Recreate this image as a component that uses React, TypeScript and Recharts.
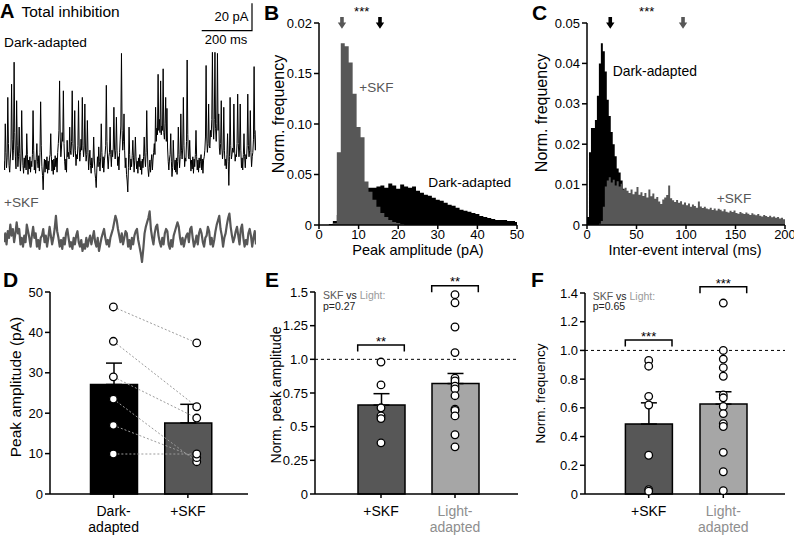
import React from "react";
import {
  ComposedChart,
  LineChart,
  Line,
  Area,
  Bar,
  Cell,
  ErrorBar,
  XAxis,
  YAxis,
  ReferenceLine,
  ReferenceDot,
} from "recharts";

const FONT = "'Liberation Sans', Arial, Helvetica, sans-serif";
const BLACK = "#000000";
const SKF_GRAY = "#575757";
const LIGHT_GRAY = "#a6a6a6";
const LIGHT_TEXT = "#8e8e8e";

// A: example recordings, one sample every 2.5 ms (about 1 s)
const darkTrace = [
  2, -6, 36, 10, -4, 5, 60, 18, -2, -8, 4, 14, 72, 22, 3, 12, 92, 28, 6, -5,
  57, 16, -3, 6, 33, 9, -7, 4, 48, 14, -2, -9, 5, -4, 7, -6, 27, 8, -10, 3,
  -5, 6, -8, 2, -3, 8, 48, 12, -6, 3, -9, 5, 18, 2, -4, 7, -7, 10, 56, 16,
  -3, -11, -24, -6, 4, -8, 3, -5, 6, -9, 2, -6, 5, 8, 27, 6, -7, 3, -10, 4,
  -6, 7, -3, 5, -8, 10, 18, 30, 75, 24, 6, 14, 28, 20, 66, 18, 2, -6, 4, -8,
  21, 6, 10, 4, 33, 12, 8, 20, 66, 18, 6, 14, 48, 12, -2, 8, 4, 16, 57, 15,
  2, 10, 22, 12, 60, 16, 6, 14, 54, 14, 2, 8, 39, 10, -6, 4, 12, -2, -9, 5,
  -4, 3, 24, 4, -8, -14, -22, -5, 6, -3, 15, 2, -7, 5, 36, 10, -4, 6, -8, 3,
  8, 16, 71, 20, 4, -5, 6, 10, 33, 8, -3, 12, 6, 14, 51, 14, 4, 12, 42, 12,
  -2, 6, -6, 10, 22, 34, 100, 30, 12, 20, 45, 12, -4, 5, -10, -16, -26, -4, 33, 8,
  -6, 4, -3, 7, 21, 5, -8, 3, 24, 6, -5, 2, -9, 5, -3, 8, -6, 2, -10, 4,
  -4, 6, 24, 6, -3, 10, 48, 14, -5, -12, -4, 3, -8, 2, 8, -6, 4, 10, 18, 8,
  51, 20, 32, 26, 81, 30, 40, 28, 75, 26, 34, 30, 86, 28, 22, 36, 60, 20, 50, 14,
  2, -6, 4, 8, 27, 2, -12, -4, 21, 4, -6, 3, -8, 5, -10, 2, 33, 8, -4, 6,
  45, 12, 4, 14, 60, 16, -3, 5, 2, 20, 94, 26, 6, 4, 21, 5, -7, 3, -5, 6,
  -9, 4, -3, 8, 30, 6, -6, 3, -8, 5, -4, 2, 8, -6, 4, -9, 3, 6, 12, 24,
  89, 24, 10, 18, 54, 16, 14, 30, 24, 40, 101, 34, 22, 40, 101, 32, 20, 36, 100, 30,
  45, 14, 8, 18, 57, 14, 4, 12, 51, 12, -2, 4, -5, 8, 27, 2, -20, 6, 60, 16,
  4, 8, 14, 10, 54, 14, 2, 8, 6, 18, 63, 18, 6, 14, 54, 12, -4, 5, -6, 8,
  27, 6, -4, 8, 4, 16, 63, 16, 6, 12, 48, 10, -3, 6, 10, 22, 88, 26, 12, 30,
];
// +SKF, one sample every 5 ms
const skfTrace = [
  -2, 6, -4, 8, 2, 14, 4, 10, -2, 6, 16, 6, 10, -4, 2, -6, 4, -2, 14, 8,
  2, -6, 4, 12, 2, 6, -6, 0, -8, 2, 4, 10, -2, 4, -6, 2, 12, 4, -4, 2,
  10, 22, 8, 2, -6, 0, -8, 2, -4, 6, 10, 2, -6, -2, -8, 2, -4, 4, 8, -2,
  -6, 0, -10, -4, -8, 2, -6, 0, 4, -4, 2, 8, -2, -6, 2, -10, -4, 2, 6, 10,
  2, -4, 0, -6, 2, 6, 10, 16, 22, 18, 10, 4, -2, 6, -4, 2, 8, 6, -6, 0,
  -8, 2, -4, 4, 8, 10, 0, -6, -12, -20, -8, 6, 12, 16, 20, 26, 10, 2, -4, 6,
  12, 14, 4, -2, -6, 2, -4, 6, 10, 8, -4, -8, 0, -6, 4, 8, 12, 16, 12, 2,
  -4, 2, -6, 0, 4, 6, -2, 10, 12, 2, -6, -2, 4, -4, 6, 10, 6, -2, -6, 2,
  4, 12, 8, -4, 2, -6, 0, 8, 14, 18, 22, 10, 4, -6, 2, 6, 14, 20, 24, 12,
  4, -2, 2, 8, 12, 4, -4, 10, 14, 2, -6, 0, -4, 6, 10, 4, -6, 2, 8, -4,
];

// B: peak amplitude histograms, 1 pA bins (left edges, last = end)
const ampEdges = [
  2.5, 3.5, 4.5, 5.5, 6.5, 7.5, 8.5, 9.5, 10.5, 11.5,
  12.5, 13.5, 14.5, 15.5, 16.5, 17.5, 18.5, 19.5, 20.5, 21.5,
  22.5, 23.5, 24.5, 25.5, 26.5, 27.5, 28.5, 29.5, 30.5, 31.5,
  32.5, 33.5, 34.5, 35.5, 36.5, 37.5, 38.5, 39.5, 40.5, 41.5,
  42.5, 43.5, 44.5, 45.5, 46.5, 47.5, 48.5, 49.5, 50,
];
const ampDark = [
  0.001, 0.004, 0.01, 0.016, 0.022, 0.027, 0.031, 0.034, 0.036, 0.037,
  0.037, 0.037, 0.038, 0.039, 0.037, 0.041, 0.039, 0.036, 0.04, 0.038,
  0.037, 0.038, 0.034, 0.032, 0.03, 0.029, 0.027, 0.025, 0.024, 0.022,
  0.02, 0.019, 0.017, 0.015, 0.014, 0.013, 0.012, 0.011, 0.009, 0.008,
  0.007, 0.006, 0.005, 0.005, 0.005, 0.004, 0.004, 0.003, 0,
];
const ampSkf = [
  0, 0.002, 0.072, 0.18, 0.177, 0.161, 0.13, 0.097, 0.087, 0.043,
  0.033, 0.025, 0.018, 0.012, 0.008, 0.005, 0.003, 0.002, 0.001, 0,
  0, 0, 0, 0, 0, 0, 0, 0, 0, 0,
  0, 0, 0, 0, 0, 0, 0, 0, 0, 0,
  0, 0, 0, 0, 0, 0, 0, 0, 0,
];
const ampXTicks = [0, 10, 20, 30, 40, 50];
const ampYTicks = [0, 0.05, 0.1, 0.15, 0.2];
const ampYLabels = ["0", "0.05", "0.10", "0.15", "0.02"];
const ampMeanSkf = 5.8;
const ampMeanDark = 15.4;

// C: inter-event interval histograms, 2 ms bins
const ivEdges = [
  0, 2, 4, 6, 8, 10, 12, 14, 16, 18,
  20, 22, 24, 26, 28, 30, 32, 34, 36, 38,
  40, 42, 44, 46, 48, 50, 52, 54, 56, 58,
  60, 62, 64, 66, 68, 70, 72, 74, 76, 78,
  80, 82, 84, 86, 88, 90, 92, 94, 96, 98,
  100, 102, 104, 106, 108, 110, 112, 114, 116, 118,
  120, 122, 124, 126, 128, 130, 132, 134, 136, 138,
  140, 142, 144, 146, 148, 150, 152, 154, 156, 158,
  160, 162, 164, 166, 168, 170, 172, 174, 176, 178,
  180, 182, 184, 186, 188, 190, 192, 194, 196, 198, 200,
];
const ivDark = [
  0.002, 0.018, 0.024, 0.024, 0.026, 0.032, 0.04, 0.045, 0.043, 0.038,
  0.031, 0.027, 0.023, 0.02, 0.017, 0.014, 0.013, 0.011, 0.009, 0.008,
  0.007, 0.006, 0.005, 0.005, 0.004, 0.004, 0.003, 0.003, 0.003, 0.002,
  0.002, 0.002, 0.002, 0.0015, 0.0015, 0.0015, 0.001, 0.001, 0.001, 0.001,
  0.001, 0.001, 0.001, 0.001, 0.001, 0.0008, 0.0008, 0.0008, 0.0008, 0.0008,
  0.0006, 0.0006, 0.0006, 0.0006, 0.0006, 0.0006, 0.0006, 0.0006, 0.0006, 0.0006,
  0.0005, 0.0005, 0.0005, 0.0005, 0.0005, 0.0005, 0.0005, 0.0005, 0.0005, 0.0005,
  0.0004, 0.0004, 0.0004, 0.0004, 0.0004, 0.0004, 0.0004, 0.0004, 0.0004, 0.0004,
  0.0003, 0.0003, 0.0003, 0.0003, 0.0003, 0.0003, 0.0003, 0.0003, 0.0003, 0.0003,
  0.0002, 0.0002, 0.0002, 0.0002, 0.0002, 0.0002, 0.0002, 0.0002, 0.0002, 0.0002, 0,
];
const ivSkf = [
  0, 0, 0, 0, 0, 0, 0.0003, 0.001, 0.0045, 0.0095,
  0.011, 0.0118, 0.0105, 0.0112, 0.0098, 0.0108, 0.0095, 0.0102, 0.0088, 0.0092,
  0.0085, 0.0079, 0.0088, 0.0076, 0.0082, 0.0094, 0.0075, 0.0081, 0.0072, 0.0079,
  0.0068, 0.0088, 0.0071, 0.0078, 0.0065, 0.0069, 0.0058, 0.0052, 0.0063, 0.0068,
  0.0074, 0.0098, 0.0066, 0.0061, 0.0057, 0.0062, 0.0055, 0.0059, 0.0051, 0.0056,
  0.0049, 0.0053, 0.0045, 0.0051, 0.0047, 0.0043, 0.0058, 0.0046, 0.0042, 0.0045,
  0.0041, 0.0039, 0.0043, 0.0037, 0.0041, 0.0036, 0.004, 0.0038, 0.0034, 0.0039,
  0.0033, 0.0031, 0.0035, 0.0032, 0.0036, 0.003, 0.0028, 0.0032, 0.0029, 0.0027,
  0.0031, 0.0028, 0.0025, 0.0029, 0.0026, 0.0024, 0.0027, 0.0023, 0.0021, 0.0025,
  0.0022, 0.002, 0.0023, 0.0019, 0.0021, 0.0018, 0.002, 0.0016, 0.0018, 0.0014, 0,
];
const ivXTicks = [0, 50, 100, 150, 200];
const ivYTicks = [0, 0.01, 0.02, 0.03, 0.04, 0.05];
const ivMeanDark = 23.5;
const ivMeanSkf = 97;

// D: peak amplitude per cell (paired)
const dCats = ["Dark-adapted", "+SKF"];
const dPos = [0, 1]; // where the paired points sit (the +SKF column is drawn a bit right of centre)
const dMean = [27.1, 17.6];
const dSem = [5.3, 4.6];
const dDark = [46.3, 37.8, 29.0, 23.5, 17.0, 9.9];
const dSkf = [37.4, 21.6, 18.8, 8.0, 9.0, 9.9];
const dYTicks = [0, 10, 20, 30, 40, 50];

// E: normalised peak amplitude
const eCats = ["+SKF", "Light-adapted"];
const eMean = [0.66, 0.82];
const eSem = [0.085, 0.075];
const eSkf = [0.98, 0.81, 0.64, 0.58, 0.56, 0.38];
const eLight = [1.48, 1.42, 1.24, 1.05, 0.86, 0.84, 0.8, 0.78, 0.73, 0.63, 0.62, 0.58, 0.44, 0.35];
const eYTicks = [0, 0.25, 0.5, 0.75, 1, 1.25, 1.5];
const eYLabels = ["0", "0.25", "0.5", "0.75", "1.0", "1.25", "1.5"];

// F: normalised frequency
const fCats = ["+SKF", "Light-adapted"];
const fMean = [0.487, 0.626];
const fSem = [0.148, 0.086];
const fSkf = [0.93, 0.89, 0.68, 0.62, 0.27, 0.03, 0.02];
const fLight = [1.33, 1.0, 0.94, 0.88, 0.82, 0.69, 0.67, 0.61, 0.56, 0.49, 0.47, 0.29, 0.155, 0.023];
const fYTicks = [0, 0.2, 0.4, 0.6, 0.8, 1, 1.2, 1.4];
const fYLabels = ["0", "0.2", "0.4", "0.6", "0.8", "1.0", "1.2", "1.4"];

const axisStyle = { stroke: BLACK, strokeWidth: 1.5 };
const yTickStyle = { fontSize: 13, fill: BLACK, fontFamily: FONT };
const xTickStyle = { fontSize: 13, fill: BLACK, fontFamily: FONT };

const tickLines: Record<string, string[]> = {
  "Dark-adapted": ["Dark-", "adapted"],
  "+SKF": ["+SKF"],
  "Light-adapted": ["Light-", "adapted"],
};

function CatTick(props: any) {
  const { x, y, payload } = props;
  const lines = tickLines[payload.value] ?? [String(payload.value)];
  const fill = payload.value === "Light-adapted" ? LIGHT_TEXT : BLACK;
  return (
    <text x={x} y={y} textAnchor="middle" fontSize={14} fill={fill} fontFamily={FONT}>
      {lines.map((l, i) => (
        <tspan key={i} x={x} dy={i === 0 ? 15.5 : 16}>
          {l}
        </tspan>
      ))}
    </text>
  );
}

function OpenDot(props: any) {
  const { cx, cy, value, index, dataKey } = props;
  const key = `${dataKey}-${index}`;
  if (cx == null || cy == null || value == null) return <g key={key} />;
  return <circle key={key} cx={cx} cy={cy} r={3.8} fill="#fff" stroke={BLACK} strokeWidth={1.3} />;
}

const arrowShape = (color: string) => (props: any) => (
  <path
    d={`M${props.cx - 1.8} ${props.cy - 6} h3.6 v5.5 h2.4 l-4.2 6.2 l-4.2 -6.2 h2.4 z`}
    fill={color}
  />
);

function Trace(props: { values: number[]; color: string; left: number; top: number; height: number; domain: [number, number]; strokeWidth: number }) {
  const rows = props.values.map((v) => ({ v }));
  return (
    <div style={{ position: "absolute", left: props.left, top: props.top }}>
      <LineChart width={252} height={props.height} data={rows} margin={{ top: 0, right: 0, bottom: 0, left: 0 }}>
        <XAxis hide />
        <YAxis hide domain={props.domain} />
        <Line
          dataKey="v"
          type="linear"
          stroke={props.color}
          strokeWidth={props.strokeWidth}
          strokeLinejoin="round"
          dot={false}
          activeDot={false}
          isAnimationActive={false}
        />
      </LineChart>
    </div>
  );
}

function Histogram(props: {
  left: number;
  width: number;
  yAxisWidth: number;
  marginRight: number;
  edges: number[];
  dark: number[];
  skf: number[];
  xDomain: [number, number];
  xTicks: number[];
  yDomain: [number, number];
  yTicks: number[];
  yFmt: (v: number) => string;
  arrows: { x: number; color: string }[];
}) {
  const rows = props.edges.map((x, i) => ({ x, dark: props.dark[i], skf: props.skf[i] }));
  const top = props.yDomain[1];
  return (
    <div style={{ position: "absolute", left: props.left, top: 0 }}>
      <ComposedChart
        width={props.width}
        height={270}
        data={rows}
        margin={{ top: 23, right: props.marginRight, bottom: 2, left: 0 }}
      >
        <XAxis
          dataKey="x"
          type="number"
          domain={props.xDomain}
          ticks={props.xTicks}
          interval={0}
          height={43}
          tickSize={4}
          tickMargin={1}
          axisLine={axisStyle}
          tickLine={axisStyle}
          tick={xTickStyle}
        />
        <YAxis
          type="number"
          domain={props.yDomain}
          ticks={props.yTicks}
          interval={0}
          tickFormatter={props.yFmt}
          width={props.yAxisWidth}
          tickSize={5}
          axisLine={axisStyle}
          tickLine={axisStyle}
          tick={yTickStyle}
        />
        <Area type="stepAfter" dataKey="dark" stroke="none" fill={BLACK} fillOpacity={1} dot={false} activeDot={false} isAnimationActive={false} />
        <Area type="stepAfter" dataKey="skf" stroke="none" fill={SKF_GRAY} fillOpacity={1} dot={false} activeDot={false} isAnimationActive={false} />
        {props.arrows.map((a, i) => (
          <ReferenceDot key={i} x={a.x} y={top} r={3} ifOverflow="visible" shape={arrowShape(a.color)} />
        ))}
      </ComposedChart>
    </div>
  );
}

function BarPanel(props: {
  left: number;
  width: number;
  yAxisWidth: number;
  marginTop: number;
  marginRight: number;
  padding: { left: number; right: number };
  cats: string[];
  mean: number[];
  sem: number[];
  points: number[][];
  colors: string[];
  yDomain: [number, number];
  yTicks: number[];
  yFmt: (v: number) => string;
  linked: boolean;
  dashedOne: boolean;
  pos?: number[];
  posDomain?: [number, number];
}) {
  const rows = props.cats.map((name, i) => {
    const row: Record<string, any> = { name, mean: props.mean[i], sem: [0, props.sem[i]] };
    if (props.pos) row.pos = props.pos[i];
    props.points[i].forEach((v, j) => {
      row[`p${j}`] = v;
    });
    return row;
  });
  const nKeys = Math.max(...props.points.map((g) => g.length));
  const keys = Array.from({ length: nKeys }, (_, j) => `p${j}`);
  const pointAxis = props.pos ? "pts" : 0;
  return (
    <div style={{ position: "absolute", left: props.left, top: 280 }}>
      <ComposedChart
        width={props.width}
        height={255}
        data={rows}
        margin={{ top: props.marginTop, right: props.marginRight, bottom: 0, left: 0 }}
      >
        <XAxis
          xAxisId={0}
          dataKey="name"
          type="category"
          interval={0}
          padding={props.padding}
          height={41}
          tickSize={4}
          axisLine={axisStyle}
          tickLine={axisStyle}
          tick={<CatTick />}
        />
        {props.pos && (
          <XAxis xAxisId="pts" dataKey="pos" type="number" domain={props.posDomain} allowDataOverflow hide />
        )}
        <YAxis
          type="number"
          domain={props.yDomain}
          ticks={props.yTicks}
          interval={0}
          tickFormatter={props.yFmt}
          width={props.yAxisWidth}
          tickSize={5}
          axisLine={axisStyle}
          tickLine={axisStyle}
          tick={yTickStyle}
        />
        {props.dashedOne && <ReferenceLine xAxisId={0} y={1} stroke={BLACK} strokeDasharray="3 3" strokeWidth={1} />}
        <Bar xAxisId={0} dataKey="mean" barSize={47} stroke={BLACK} strokeWidth={1.5} isAnimationActive={false}>
          {props.colors.map((c, i) => (
            <Cell key={i} fill={c} />
          ))}
          <ErrorBar dataKey="sem" width={8} stroke={BLACK} strokeWidth={1.5} direction="y" />
        </Bar>
        {keys.map((k) => (
          <Line
            key={k}
            xAxisId={pointAxis}
            dataKey={k}
            type="linear"
            stroke={props.linked ? "#9b9b9b" : "none"}
            strokeDasharray="2 2"
            strokeWidth={1}
            dot={OpenDot}
            activeDot={false}
            isAnimationActive={false}
          />
        ))}
      </ComposedChart>
    </div>
  );
}

function Bracket({ x1, x2, y, stars, starY }: { x1: number; x2: number; y: number; stars: string; starY: number }) {
  return (
    <g>
      <path d={`M${x1} ${y + 6.5} V${y} H${x2} V${y + 6.5}`} stroke={BLACK} strokeWidth={1.5} fill="none" />
      <text x={(x1 + x2) / 2} y={starY} textAnchor="middle" fontSize={13}>
        {stars}
      </text>
    </g>
  );
}

function YTitle({ x, y, size, children }: { x: number; y: number; size: number; children: string }) {
  return (
    <text transform={`translate(${x},${y}) rotate(-90)`} textAnchor="middle" dy="0.35em" fontSize={size}>
      {children}
    </text>
  );
}

export default function App() {
  return (
    <div
      style={{
        position: "absolute",
        left: 0,
        top: 0,
        width: 794,
        height: 535,
        background: "#fff",
        fontFamily: FONT,
        overflow: "hidden",
      }}
    >
      <Trace values={darkTrace} color={BLACK} left={4} top={48.6} height={147.4} domain={[-30, 104]} strokeWidth={1} />
      <Trace values={skfTrace} color={SKF_GRAY} left={4} top={207} height={60.5} domain={[-25, 30]} strokeWidth={2.2} />

      <Histogram
        left={237}
        width={290}
        yAxisWidth={82}
        marginRight={10}
        edges={ampEdges}
        dark={ampDark}
        skf={ampSkf}
        xDomain={[0, 50]}
        xTicks={ampXTicks}
        yDomain={[0, 0.2]}
        yTicks={ampYTicks}
        yFmt={(v) => ampYLabels[ampYTicks.indexOf(v)] ?? String(v)}
        arrows={[
          { x: ampMeanSkf, color: SKF_GRAY },
          { x: ampMeanDark, color: BLACK },
        ]}
      />
      <Histogram
        left={495}
        width={299}
        yAxisWidth={92}
        marginRight={9}
        edges={ivEdges}
        dark={ivDark}
        skf={ivSkf}
        xDomain={[0, 200]}
        xTicks={ivXTicks}
        yDomain={[0, 0.05]}
        yTicks={ivYTicks}
        yFmt={(v) => (v === 0 ? "0" : v.toFixed(2))}
        arrows={[
          { x: ivMeanDark, color: BLACK },
          { x: ivMeanSkf, color: SKF_GRAY },
        ]}
      />

      <BarPanel
        left={-20}
        width={280}
        yAxisWidth={70}
        marginTop={12}
        marginRight={12}
        padding={{ left: 26.5, right: 23 }}
        cats={dCats}
        mean={dMean}
        sem={dSem}
        points={[dDark, dSkf]}
        colors={[BLACK, SKF_GRAY]}
        yDomain={[0, 50]}
        yTicks={dYTicks}
        yFmt={(v) => String(v)}
        linked={true}
        dashedOne={false}
        pos={dPos}
        posDomain={[-0.76, 1.615]}
      />
      <BarPanel
        left={238}
        width={292}
        yAxisWidth={77}
        marginTop={12}
        marginRight={12}
        padding={{ left: 29, right: 26 }}
        cats={eCats}
        mean={eMean}
        sem={eSem}
        points={[eSkf, eLight]}
        colors={[SKF_GRAY, LIGHT_GRAY]}
        yDomain={[0, 1.5]}
        yTicks={eYTicks}
        yFmt={(v) => eYLabels[eYTicks.indexOf(v)] ?? String(v)}
        linked={false}
        dashedOne={true}
      />
      <BarPanel
        left={495}
        width={299}
        yAxisWidth={90}
        marginTop={13}
        marginRight={9}
        padding={{ left: 26.4, right: 24.4 }}
        cats={fCats}
        mean={fMean}
        sem={fSem}
        points={[fSkf, fLight]}
        colors={[SKF_GRAY, LIGHT_GRAY]}
        yDomain={[0, 1.4]}
        yTicks={fYTicks}
        yFmt={(v) => fYLabels[fYTicks.indexOf(v)] ?? String(v)}
        linked={false}
        dashedOne={true}
      />

      <svg width={794} height={535} style={{ position: "absolute", left: 0, top: 0, pointerEvents: "none" }}>
        <g fontFamily={FONT} fill={BLACK}>
          {/* panel letters */}
          <text x={0} y={17.5} fontSize={20} fontWeight="bold">A</text>
          <text x={264} y={20} fontSize={21} fontWeight="bold">B</text>
          <text x={532} y={19.5} fontSize={21} fontWeight="bold">C</text>
          <text x={3} y={287} fontSize={21} fontWeight="bold">D</text>
          <text x={265} y={287} fontSize={21} fontWeight="bold">E</text>
          <text x={531} y={287} fontSize={21} fontWeight="bold">F</text>

          {/* axis titles */}
          <YTitle x={278} y={114} size={16}>Norm. frequency</YTitle>
          <YTitle x={541} y={113} size={16}>Norm. frequency</YTitle>
          <YTitle x={16} y={387} size={15.5}>Peak amplitude (pA)</YTitle>
          <YTitle x={276.5} y={395} size={14}>Norm. peak amplitude</YTitle>
          <YTitle x={540} y={393.5} size={13.5}>Norm. frequency</YTitle>
          <text x={418} y={255} fontSize={14.5} textAnchor="middle">Peak amplitude (pA)</text>
          <text x={685} y={254.5} fontSize={14.5} textAnchor="middle">Inter-event interval (ms)</text>

          {/* A */}
          <text x={21.5} y={17} fontSize={15.5}>Total inhibition</text>
          <text x={4} y={47} fontSize={13.7}>Dark-adapted</text>
          <text x={4} y={207} fontSize={13.7} fill={SKF_GRAY}>+SKF</text>
          <text x={248.5} y={20.5} fontSize={13} textAnchor="end">20 pA</text>
          <path d="M252 3.3 V30.7 H201.7" stroke={BLACK} strokeWidth={1.2} fill="none" />
          <text x={226} y={44} fontSize={13} textAnchor="middle">200 ms</text>

          {/* B */}
          <text x={361.7} y={16} fontSize={13} textAnchor="middle">***</text>
          <text x={359.3} y={91.7} fontSize={13.5} fill={SKF_GRAY}>+SKF</text>
          <text x={428.3} y={187} fontSize={13.7}>Dark-adapted</text>

          {/* C */}
          <text x={646.7} y={16} fontSize={13} textAnchor="middle">***</text>
          <text x={612.7} y={75.5} fontSize={13.9}>Dark-adapted</text>
          <text x={716.7} y={203} fontSize={13.7} fill={SKF_GRAY}>+SKF</text>

          {/* E */}
          <text x={323} y={299.2} fontSize={10.5}>
            <tspan fill={SKF_GRAY}>SKF </tspan>
            <tspan fill="#222">vs </tspan>
            <tspan fill="#9a9a9a">Light:</tspan>
          </text>
          <text x={323} y={309.6} fontSize={10.5} fill="#222">p=0.27</text>
          <Bracket x1={357.7} x2={404.3} y={345} stars="**" starY={346} />
          <Bracket x1={431.7} x2={478.3} y={285.7} stars="**" starY={286} />

          {/* F */}
          <text x={592.7} y={299.8} fontSize={10.5}>
            <tspan fill={SKF_GRAY}>SKF </tspan>
            <tspan fill="#222">vs </tspan>
            <tspan fill="#9a9a9a">Light:</tspan>
          </text>
          <text x={592.7} y={310} fontSize={10.5} fill="#222">p=0.65</text>
          <Bracket x1={625.3} x2={672} y={340} stars="***" starY={341} />
          <Bracket x1={700} x2={746.7} y={286.7} stars="***" starY={288.3} />
        </g>
      </svg>
    </div>
  );
}
